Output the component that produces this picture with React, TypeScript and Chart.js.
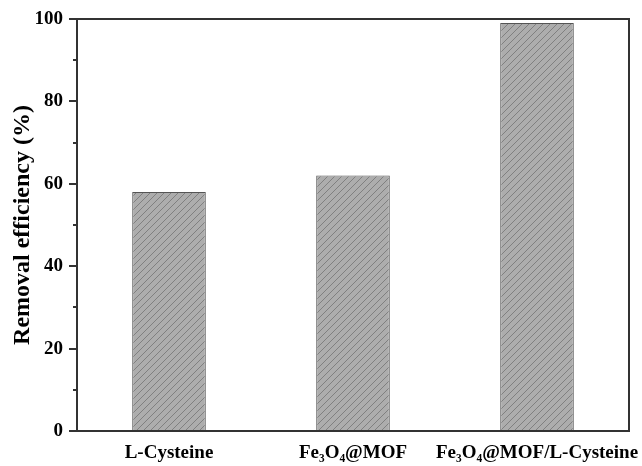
import React, { useEffect, useRef } from "react";
import { Chart, registerables } from "chart.js";

Chart.register(...registerables);

const categories = ["L-Cysteine", "Fe\u2083O\u2084@MOF", "Fe\u2083O\u2084@MOF/L-Cysteine"];
const removalEfficiency = [58, 62, 99];
const yMajorTicks = [0, 20, 40, 60, 80, 100];
const yMinorTicks = [10, 30, 50, 70, 90];

const FONT = "'Liberation Serif', 'Times New Roman', serif";
const AXIS = "#333333";

function makeHatch(): CanvasPattern | string {
  const c = document.createElement("canvas");
  const s = 7;
  c.width = s;
  c.height = s;
  const g = c.getContext("2d");
  if (!g) return "#a8a8a8";
  g.fillStyle = "#adadad";
  g.fillRect(0, 0, s, s);
  g.strokeStyle = "#808080";
  g.lineWidth = 1;
  g.beginPath();
  g.moveTo(0, s);
  g.lineTo(s, 0);
  g.moveTo(-1, 1);
  g.lineTo(1, -1);
  g.moveTo(s - 1, s + 1);
  g.lineTo(s + 1, s - 1);
  g.stroke();
  const p = g.createPattern(c, "repeat");
  return p || "#a8a8a8";
}

const framePlugin = {
  id: "frame",
  afterDraw(chart: any) {
    const { ctx, chartArea } = chart;
    const y = chart.scales.y;
    ctx.save();
    ctx.strokeStyle = AXIS;
    ctx.lineWidth = 2;
    ctx.strokeRect(chartArea.left, chartArea.top, chartArea.right - chartArea.left, chartArea.bottom - chartArea.top);
    ctx.beginPath();
    for (const v of yMajorTicks) {
      const py = Math.round(y.getPixelForValue(v));
      ctx.moveTo(chartArea.left - 8, py);
      ctx.lineTo(chartArea.left, py);
    }
    for (const v of yMinorTicks) {
      const py = Math.round(y.getPixelForValue(v));
      ctx.moveTo(chartArea.left - 4, py);
      ctx.lineTo(chartArea.left, py);
    }
    ctx.stroke();
    ctx.restore();
  },
};

export default function App() {
  const ref = useRef<HTMLCanvasElement>(null);
  useEffect(() => {
    if (!ref.current) return;
    const hatch = makeHatch();
    const chart = new Chart(ref.current, {
      type: "bar",
      data: {
        labels: categories,
        datasets: [
          {
            data: removalEfficiency,
            backgroundColor: hatch as any,
            borderColor: "#555555",
            borderWidth: 1,
            barPercentage: 0.8,
            categoryPercentage: 0.5,
          },
        ],
      },
      options: {
        animation: false,
        responsive: false,
        maintainAspectRatio: false,
        layout: { padding: { top: 19, right: 13, left: 0, bottom: 0 } },
        plugins: { legend: { display: false }, tooltip: { enabled: false } },
        scales: {
          x: {
            grid: { display: false, drawTicks: false },
            border: { display: false },
            ticks: {
              color: "#000",
              padding: 11,
              maxRotation: 0,
              autoSkip: false,
              font: { family: FONT, size: 19, weight: "bold" },
            },
            afterFit: (s: any) => {
              s.height = 35;
              s.paddingLeft = 0;
              s.paddingRight = 0;
            },
          },
          y: {
            min: 0,
            max: 100,
            grid: { display: false, drawTicks: false },
            border: { display: false },
            ticks: {
              stepSize: 20,
              padding: 14,
              color: "#000",
              font: { family: FONT, size: 19, weight: "bold" },
            },
            title: {
              display: true,
              text: "Removal efficiency (%)",
              color: "#000",
              font: { family: FONT, size: 24, weight: "bold" },
              padding: { top: 8, bottom: 0 },
            },
            afterFit: (s: any) => {
              s.width = 77;
              s.paddingTop = 0;
              s.paddingBottom = 0;
            },
          },
        },
      },
      plugins: [framePlugin],
    });
    return () => chart.destroy();
  }, []);
  return (
    <div style={{ position: "fixed", left: 0, top: 0, width: 642, height: 466, background: "#fff" }}>
      <canvas ref={ref} width={642} height={466} style={{ width: 642, height: 466 }} />
    </div>
  );
}
